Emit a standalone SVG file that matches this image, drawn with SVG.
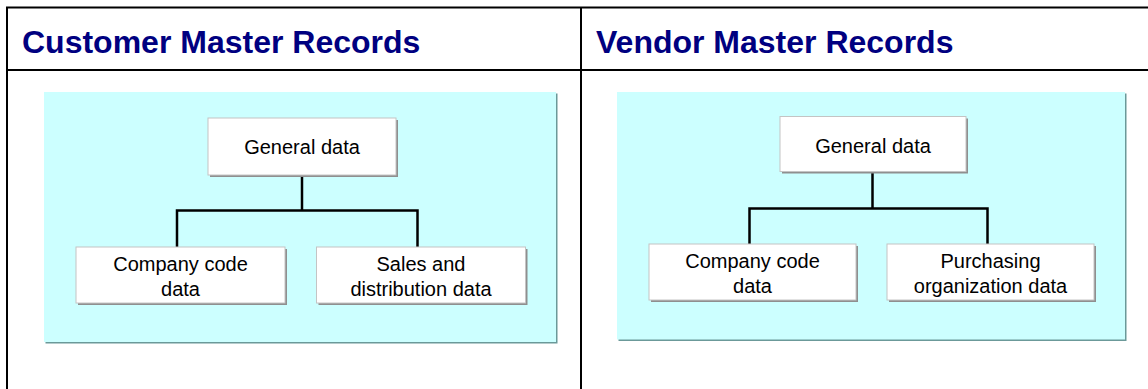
<svg xmlns="http://www.w3.org/2000/svg" width="1148" height="389" viewBox="0 0 1148 389">
<style>
.frame{stroke:#000;stroke-width:2;fill:none}
.title{font-family:"Liberation Sans",Arial,sans-serif;font-weight:bold;font-size:32px;fill:#000080}
.panel{fill:#CCFFFF}
.pshadow{fill:#6B9999}
.box{fill:#FFFFFF;stroke:#C4C4C4;stroke-width:1}
.bshadow{fill:#8F8F8F}
.lbl{font-family:"Liberation Sans",Arial,sans-serif;font-size:20px;fill:#000;text-anchor:middle}
.conn{stroke:#000;stroke-width:2.5;fill:none}
</style>
<rect width="1148" height="389" fill="#FFFFFF"/>
<g id="frame">
<line class="frame" x1="6" y1="7.5" x2="1148" y2="7.5"/>
<line class="frame" x1="7" y1="7" x2="7" y2="389"/>
<line class="frame" x1="6" y1="70" x2="1148" y2="70"/>
<line class="frame" x1="581" y1="7" x2="581" y2="389"/>
</g>
<g id="titles">
<text class="title" x="22" y="53">Customer Master Records</text>
<text class="title" x="596" y="53">Vendor Master Records</text>
</g>
<g id="panel-customer">
<rect class="pshadow" x="45.5" y="93.5" width="512" height="250"/>
<rect class="panel" x="44" y="92" width="512" height="250"/>
</g>
<g id="panel-vendor">
<rect class="pshadow" x="618.5" y="93.5" width="508" height="247.5"/>
<rect class="panel" x="617" y="92" width="508" height="247.5"/>
</g>
<g id="connectors">
<polyline class="conn" points="302,175 302,210.5"/>
<polyline class="conn" points="177,248 177,210.5 417.5,210.5 417.5,248"/>
<polyline class="conn" points="872.5,172 872.5,208.5"/>
<polyline class="conn" points="749.5,245 749.5,208.5 987.5,208.5 987.5,245"/>
</g>
<g id="c-general">
<rect class="bshadow" x="210" y="120" width="188" height="57"/>
<rect class="box" x="208" y="118" width="188" height="57"/>
<text class="lbl" x="302" y="154">General data</text>
</g>
<g id="c-company">
<rect class="bshadow" x="78" y="249" width="209" height="56"/>
<rect class="box" x="76" y="247" width="209" height="56"/>
<text class="lbl" x="180.5" y="271">Company code</text>
<text class="lbl" x="180.5" y="295.5">data</text>
</g>
<g id="c-sales">
<rect class="bshadow" x="318.5" y="249" width="209" height="56"/>
<rect class="box" x="316.5" y="247" width="209" height="56"/>
<text class="lbl" x="421" y="271">Sales and</text>
<text class="lbl" x="421" y="295.5">distribution data</text>
</g>
<g id="v-general">
<rect class="bshadow" x="782" y="118.5" width="186" height="55"/>
<rect class="box" x="780" y="116.5" width="186" height="55"/>
<text class="lbl" x="873" y="152.5">General data</text>
</g>
<g id="v-company">
<rect class="bshadow" x="651" y="246" width="207" height="56"/>
<rect class="box" x="649" y="244" width="207" height="56"/>
<text class="lbl" x="752.5" y="267.5">Company code</text>
<text class="lbl" x="752.5" y="292.5">data</text>
</g>
<g id="v-purchasing">
<rect class="bshadow" x="889" y="246" width="207" height="56"/>
<rect class="box" x="887" y="244" width="207" height="56"/>
<text class="lbl" x="990.5" y="267.5">Purchasing</text>
<text class="lbl" x="990.5" y="292.5">organization data</text>
</g>
</svg>
